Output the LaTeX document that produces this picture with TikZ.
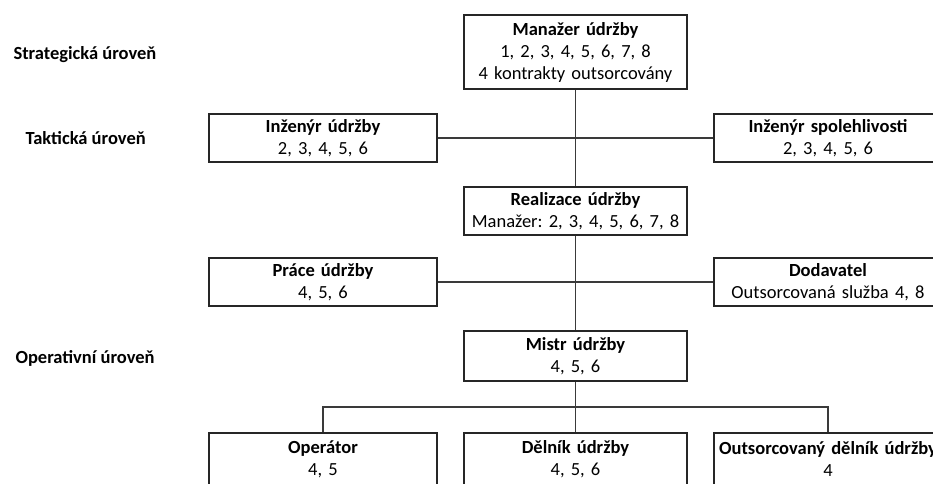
\documentclass[tikz,border=0pt]{standalone}
\usepackage{fontspec}
\setmainfont{Carlito}
\frenchspacing
\usetikzlibrary{positioning}
\definecolor{boxline}{HTML}{262626}
\definecolor{wireline}{HTML}{3A3A3A}

\tikzset{
  orgbox/.style={draw=boxline, line width=1.1pt, fill=white, align=center,
    inner xsep=2pt, inner ysep=0pt, minimum height=48pt, text width=#1,
    font=\fontsize{18.5}{22}\selectfont},
  orgbox/.default=224pt,
  levellabel/.style={anchor=west, font=\fontsize{18.5}{22}\selectfont\bfseries},
  wire/.style={draw=wireline, line width=1.1pt}
}

\begin{document}
\begin{tikzpicture}[x=1pt, y=-1pt]
  \useasboundingbox (0,0) rectangle (933,483);
  \clip (0,0) rectangle (933,483);

  % levels
  \foreach \nm/\x/\y/\lbl in {
    strat/10/55/{Strategická úroveň},
    takt/22/138/{Taktická úroveň},
    oper/12/358/{Operativní úroveň}}{
    \node[levellabel] (\nm) at (\x,\y) {\lbl};
  }

  % middle column
  \node[orgbox=219pt, minimum height=74pt] (mgr) at (575.5,52)
    {\textbf{Manažer údržby}\\1, 2, 3, 4, 5, 6, 7, 8\\4 kontrakty outsorcovány};
  \node[orgbox=219pt] (real) at (575.5,211)
    {\textbf{Realizace údržby}\\Manažer: 2, 3, 4, 5, 6, 7, 8};
  \node[orgbox=219pt, minimum height=50pt] (mistr) at (575.5,356)
    {\textbf{Mistr údržby}\\4, 5, 6};

  % side boxes
  \node[orgbox] (ineng) at (323,138) {\textbf{Inženýr údržby}\\2, 3, 4, 5, 6};
  \node[orgbox] (releng) at (828,138) {\textbf{Inženýr spolehlivosti}\\2, 3, 4, 5, 6};
  \node[orgbox] (prace) at (323,282) {\textbf{Práce údržby}\\4, 5, 6};
  \node[orgbox] (dodav) at (828,282) {\textbf{Dodavatel}\\Outsorcovaná služba 4, 8};

  % bottom row
  \node[orgbox, minimum height=52pt] (oprtr) at (323,459) {\textbf{Operátor}\\4, 5};
  \node[orgbox=219pt, minimum height=52pt] (delnik) at (575.5,459) {\textbf{Dělník údržby}\\4, 5, 6};
  \node[orgbox, minimum height=52pt] (outw) at (828,459) {\textbf{Outsorcovaný dělník údržby}\\4};

  % connectors
  \draw[wire] (mgr) -- (real);
  \draw[wire] (ineng) -- (releng);
  \draw[wire] (real) -- (mistr);
  \draw[wire] (prace) -- (dodav);
  \coordinate (bus) at (575.5,407);
  \draw[wire] (mistr) -- (bus);
  \draw[wire] (oprtr.north) |- (bus) -| (outw.north);
  \draw[wire] (bus) -- (delnik);
\end{tikzpicture}
\end{document}
